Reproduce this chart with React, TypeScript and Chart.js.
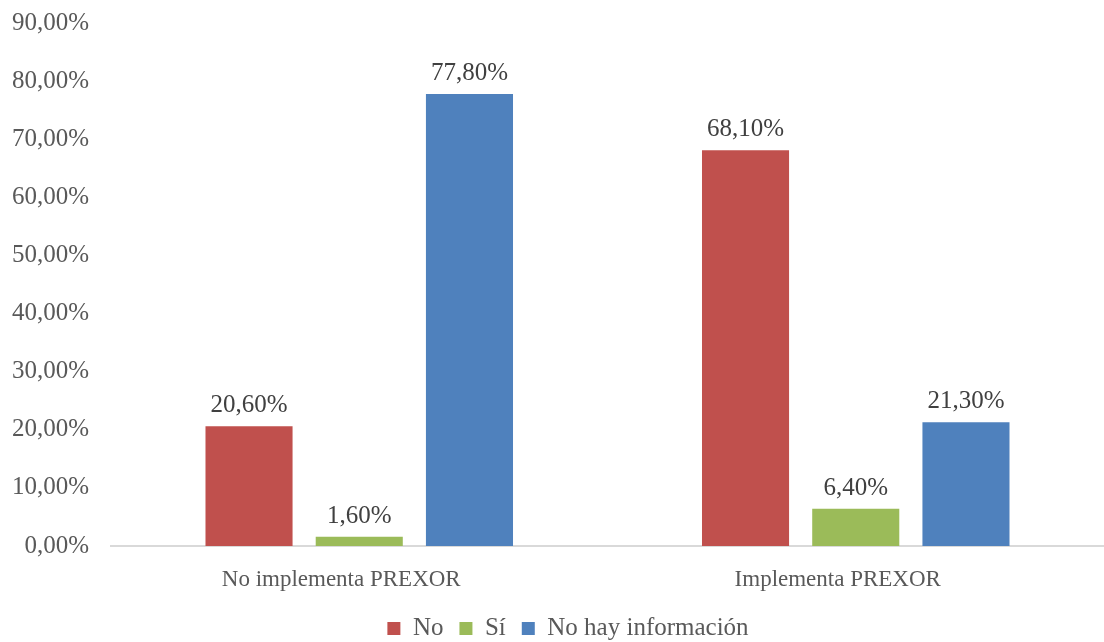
import React, { useEffect, useRef } from "react";
import { Chart, registerables } from "chart.js";

Chart.register(...registerables);

const categories: string[] = ["No implementa PREXOR", "Implementa PREXOR"];
const seriesNames: string[] = ["No", "Sí", "No hay información"];
const seriesNo: number[] = [20.6, 68.1];
const seriesSi: number[] = [1.6, 6.4];
const seriesNoInfo: number[] = [77.8, 21.3];
const seriesColors: string[] = ["#C0504D", "#9BBB59", "#4F81BD"];
const yTicks: number[] = [0, 10, 20, 30, 40, 50, 60, 70, 80, 90];

const FONT = "'Liberation Serif', serif";
const NUM_FS = 25;
const CAT_FS = 23;
const LEG_FS = 25;
const fmt = (v: number) => v.toFixed(2).replace(".", ",") + "%";

const dataLabelPlugin = {
  id: "dataLabels",
  afterDatasetsDraw(chart: any) {
    const ctx = chart.ctx;
    ctx.save();
    ctx.font = `${NUM_FS}px ${FONT}`;
    ctx.fillStyle = "#404040";
    ctx.textAlign = "center";
    ctx.textBaseline = "bottom";
    chart.data.datasets.forEach((ds: any, i: number) => {
      const meta = chart.getDatasetMeta(i);
      meta.data.forEach((bar: any, j: number) => {
        ctx.fillText(fmt(ds.data[j]), bar.x, bar.y - 8);
      });
    });
    ctx.restore();
  },
};

const legendShiftPlugin = {
  id: "legendShift",
  afterLayout(chart: any) {
    const lg = chart.legend;
    if (!lg) return;
    const h = lg.height;
    lg.left += 16;
    lg.right += 16;
    lg.top = 600;
    lg.bottom = lg.top + h;
  },
};

export default function App() {
  const ref = useRef<HTMLCanvasElement | null>(null);
  useEffect(() => {
    if (!ref.current) return;
    const allSeries = [seriesNo, seriesSi, seriesNoInfo];
    const chart = new Chart(ref.current, {
      type: "bar",
      data: {
        labels: categories,
        datasets: allSeries.map((d, i) => ({
          label: seriesNames[i],
          data: d,
          backgroundColor: seriesColors[i],
          borderWidth: 0,
          barPercentage: 0.79,
          categoryPercentage: 0.666,
        })),
      },
      options: {
        animation: false,
        responsive: false,
        maintainAspectRatio: false,
        layout: { padding: { top: 23, right: 0, left: 0, bottom: -15 } },
        scales: {
          x: {
            grid: { display: false },
            border: { display: true, color: "#D9D9D9", width: 2 },
            ticks: {
              color: "#595959",
              font: { family: FONT, size: CAT_FS },
              padding: 12,
              labelOffset: -18,
            },
            afterFit: (s: any) => {
              s.height = 60;
            },
          },
          y: {
            min: 0,
            max: 90,
            grid: { display: false },
            border: { display: false },
            afterBuildTicks: (s: any) => {
              s.ticks = yTicks.map((v) => ({ value: v }));
            },
            ticks: {
              color: "#595959",
              font: { family: FONT, size: NUM_FS },
              padding: 14,
              callback: (v: any) => fmt(Number(v)),
            },
            afterFit: (s: any) => {
              s.width = 111;
              s.paddingTop = 0;
              s.paddingBottom = 0;
            },
          },
        },
        plugins: {
          legend: {
            position: "bottom",
            labels: {
              boxWidth: 13,
              boxHeight: 13,
              color: "#595959",
              font: { family: FONT, size: LEG_FS },
              padding: 16,
            },
          },
          tooltip: { enabled: false },
        },
      },
      plugins: [dataLabelPlugin, legendShiftPlugin],
    });
    return () => chart.destroy();
  }, []);
  return (
    <div style={{ position: "fixed", left: 0, top: 0, width: 1104, height: 642, background: "#fff" }}>
      <canvas ref={ref} width={1104} height={642} style={{ width: 1104, height: 642 }} />
    </div>
  );
}
